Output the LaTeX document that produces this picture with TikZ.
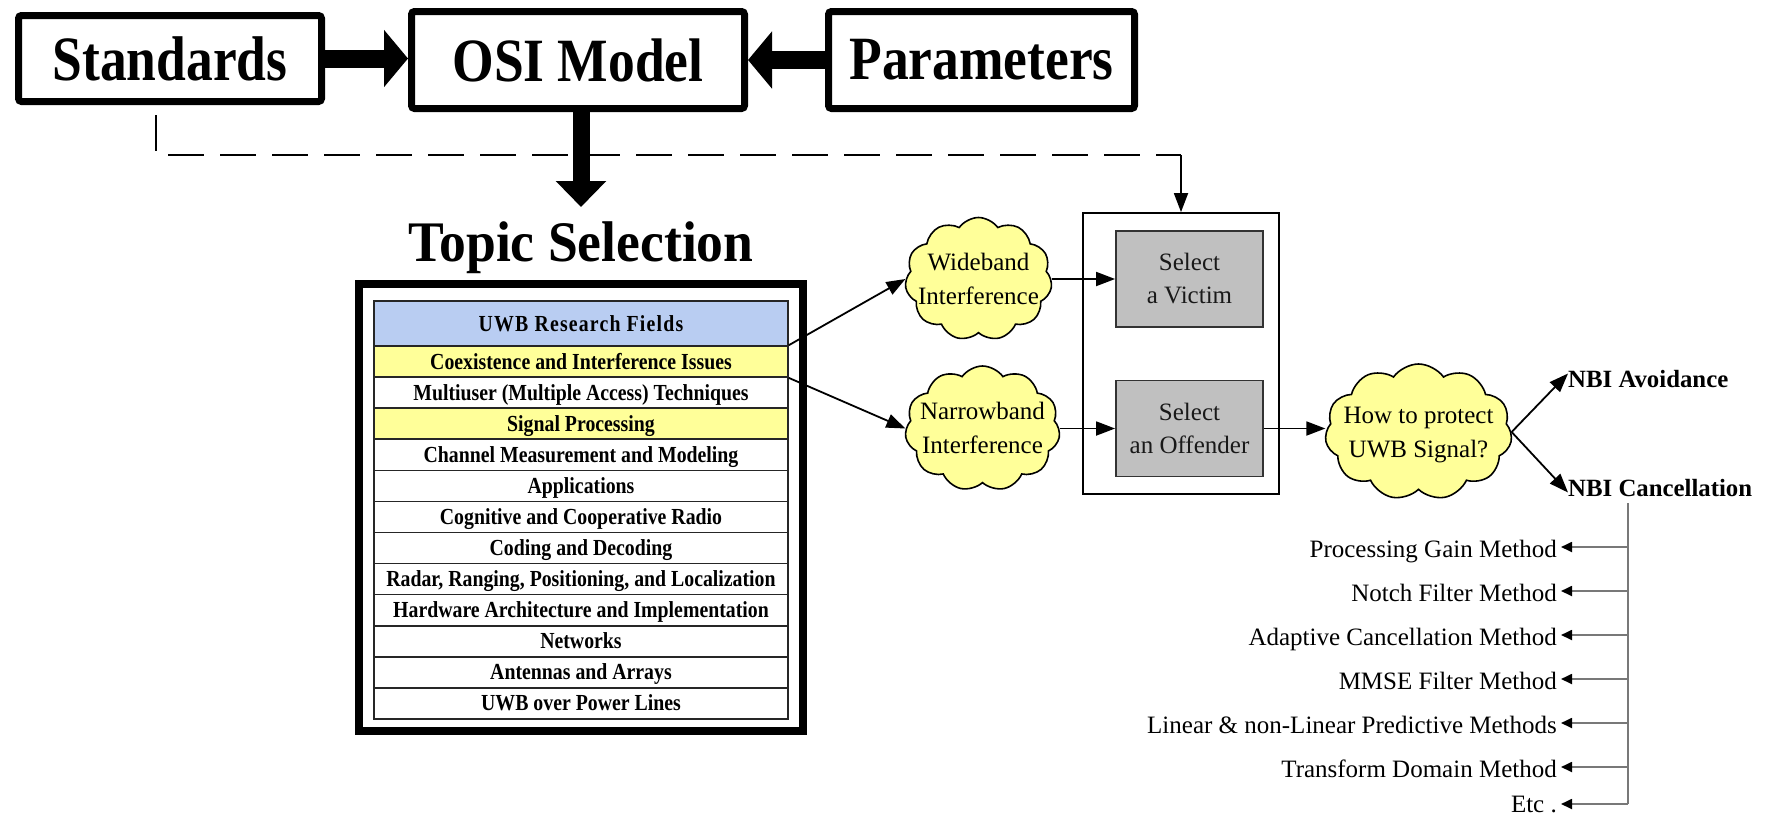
\documentclass[tikz,border=0pt]{standalone}
\usepackage{fontspec}
\setmainfont{Liberation Serif}
\newfontfamily\hdrfont[LetterSpace=6]{Liberation Serif}
\usepackage{graphicx}
\usetikzlibrary{arrows.meta,shapes.symbols}
\definecolor{hdrblue}{RGB}{185,205,242}
\definecolor{rowyellow}{RGB}{255,255,153}
\definecolor{cloudyellow}{RGB}{255,255,153}
\definecolor{boxgray}{RGB}{192,192,192}
\definecolor{linegray}{RGB}{120,120,120}
\newcommand{\vsc}[2]{\scalebox{1}[#1]{#2}}
\newcommand{\ctwo}[2]{\makebox[0pt][c]{\raisebox{8.75pt}{\begin{tabular}[t]{@{}c@{}}#1\\#2\end{tabular}}}}
\tikzset{
  topbox/.style={draw, line width=7pt, fill=white, rounded corners=3pt, inner sep=0pt,
    font=\fontsize{53.5}{60}\selectfont\bfseries},
  fatarrow/.style={line width=18pt, -{Triangle[length=24pt,width=56pt]}},
  downarrow/.style={line width=17pt, -{Triangle[length=26pt,width=49pt]}},
  thinline/.style={line width=1.8pt},
  tip/.style={-{Triangle[length=19pt,width=14pt]}},
  dashline/.style={line width=1.8pt, dash pattern=on 36pt off 16pt},
  rowbox/.style={draw=black!85, line width=1.6pt, minimum width=414pt, minimum height=31.08pt,
    inner sep=0pt, text height=17pt, text depth=2pt,
    font=\fontsize{19.8}{22}\selectfont\bfseries, fill=white},
  cloudnode/.style={cloud, cloud puffs=11, cloud puff arc=110, draw, line width=1.6pt,
    fill=cloudyellow, inner sep=0pt, text height=0pt, text depth=0pt,
    font=\fontsize{25}{34}\selectfont},
  graybox/.style={draw=black!80, line width=1.8pt, fill=boxgray, minimum width=147pt,
    minimum height=96pt, align=center, font=\fontsize{25}{33}\selectfont, text=black!90},
  nbi/.style={anchor=west, inner sep=0pt, font=\fontsize{24.8}{28}\selectfont\bfseries},
  methodtext/.style={anchor=east, inner xsep=4pt, inner ysep=0pt, text height=20pt,
    text depth=0pt, font=\fontsize{25}{30}\selectfont},
  methodarrow/.style={draw=linegray, line width=1.8pt,
    -{Triangle[length=11pt,width=10pt,color=black]}}
}
\begin{document}
\begin{tikzpicture}[x=1pt,y=-1pt]
\useasboundingbox (0,0) rectangle (1779,817);

% top row
\node[topbox, minimum width=303pt, minimum height=86pt] (std) at (170,58.5) {\vsc{1.18}{Standards}};
\node[topbox, minimum width=333pt, minimum height=97pt] (osi) at (578,60) {\vsc{1.15}{OSI Model}};
\node[topbox, minimum width=306pt, minimum height=97pt] (par) at (981.5,60) {\vsc{1.15}{Parameters}};
\draw[fatarrow] (std.east) -- (std.east -| osi.west);
\draw[fatarrow] (par.west) -- (osi.east);

% topic selection
\node[anchor=base, inner sep=0pt, font=\fontsize{53.6}{60}\selectfont\bfseries] (title) at (581,261) {\vsc{1.07}{Topic Selection}};
\draw[downarrow, shorten >=14pt] (title.north |- osi.south) -- (title.north);

\node[draw, line width=8pt, fill=white, minimum width=444pt, minimum height=447pt, inner sep=0pt] (topic) at (581,507.5) {};
\node[rowbox, minimum height=45pt, fill=hdrblue, font=\fontsize{19.8}{22}\selectfont\hdrfont\bfseries] (hdr) at (581,323.5) {\vsc{1.16}{UWB Research Fields}};
\node[rowbox, fill=rowyellow] (r1) at (581,361.54) {\vsc{1.16}{Coexistence and Interference Issues}};
\node[rowbox] (r2) at (581,392.62) {\vsc{1.16}{Multiuser (Multiple Access) Techniques}};
\node[rowbox, fill=rowyellow] (r3) at (581,423.70) {\vsc{1.16}{Signal Processing}};
\node[rowbox] (r4) at (581,454.78) {\vsc{1.16}{Channel Measurement and Modeling}};
\node[rowbox] (r5) at (581,485.86) {\vsc{1.16}{Applications}};
\node[rowbox] (r6) at (581,516.94) {\vsc{1.16}{Cognitive and Cooperative Radio}};
\node[rowbox] (r7) at (581,548.02) {\vsc{1.16}{Coding and Decoding}};
\node[rowbox] (r8) at (581,579.10) {\vsc{1.16}{Radar, Ranging, Positioning, and Localization}};
\node[rowbox] (r9) at (581,610.18) {\vsc{1.16}{Hardware Architecture and Implementation}};
\node[rowbox] (r10) at (581,641.26) {\vsc{1.16}{Networks}};
\node[rowbox] (r11) at (581,672.34) {\vsc{1.16}{Antennas and Arrays}};
\node[rowbox] (r12) at (581,703.42) {\vsc{1.16}{UWB over Power Lines}};

% clouds
\node[cloudnode, minimum width=147pt, minimum height=123pt] (wide) at (978.5,279) {\ctwo{Wideband}{Interference}};
\node[cloudnode, minimum width=155pt, minimum height=125pt] (narrow) at (982.5,428.5) {\ctwo{Narrowband}{Interference}};

% selection box
\node[draw, thinline, minimum width=196pt, minimum height=281pt, inner sep=0pt] (big) at (1181,353.5) {};
\node[graybox] (victim) at (1189.5,279) {Select\\a Victim};
\node[graybox] (offender) at (1189.5,428.5) {Select\\an Offender};

\node[cloudnode, minimum width=187pt, minimum height=136pt] (howto) at (1418.5,432) {\ctwo{How to protect}{UWB Signal?}};

\node[nbi] (avoid) at (1568,379.5) {NBI Avoidance};
\node[nbi] (cancel) at (1568,488.5) {NBI Cancellation};

% connectors
\draw[thinline, tip] (r1.north east) -- (wide.west);
\draw[thinline, tip] (r1.south east) -- (narrow.west);
\draw[thinline, tip] (wide.east |- victim.west) -- (victim.west);
\draw[thinline, tip] (narrow.east |- offender.west) -- (offender.west);
\draw[thinline, tip] (offender.east) -- (offender.east -| howto.west);
\draw[thinline, tip] (howto.east) -- ([yshift=6pt]avoid.west);
\draw[thinline, tip] (howto.east) -- ([yshift=-4pt]cancel.west);

% dashed link
\coordinate (d1) at (156,115);
\coordinate (d2) at (156,155);
\coordinate (d3) at (big.north |- d2);
\draw[dashline] (d1) -- (d2) -- (d3);
\draw[thinline, tip] (d3) -- (big.north);

% methods
\coordinate (trunk) at (1628,503);
\coordinate (trunkend) at (1628,804);
\draw[draw=linegray, line width=1.8pt] (trunk) -- (trunkend);
\node[methodtext] (m1) at (1561,547) {Processing Gain Method};
\node[methodtext] (m2) at (1561,591) {Notch Filter Method};
\node[methodtext] (m3) at (1561,635) {Adaptive Cancellation Method};
\node[methodtext] (m4) at (1561,679) {MMSE Filter Method};
\node[methodtext] (m5) at (1561,723) {Linear \& non-Linear Predictive Methods};
\node[methodtext] (m6) at (1561,767) {Transform Domain Method};
\node[methodtext, text height=16pt] (m7) at (1561,804) {Etc .};
\foreach \m in {m1,m2,m3,m4,m5,m6,m7}
  \draw[methodarrow] (trunk |- \m.east) -- (\m.east);
\end{tikzpicture}
\end{document}
